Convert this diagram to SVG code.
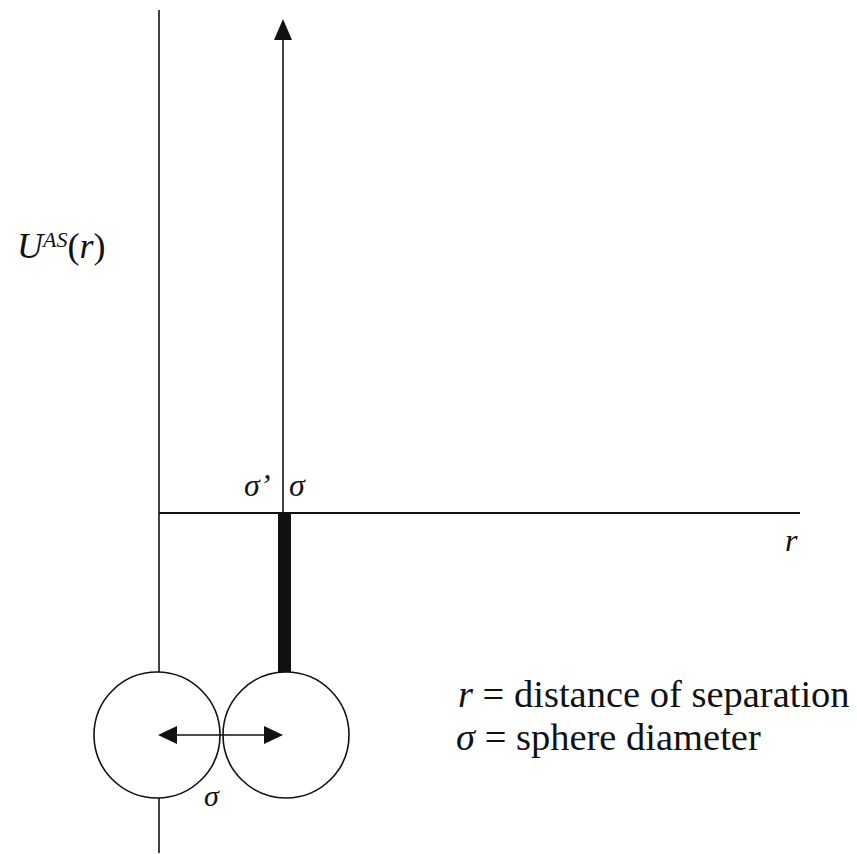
<svg xmlns="http://www.w3.org/2000/svg" width="857" height="854" viewBox="0 0 857 854">
<style>
.ln{stroke:#111;stroke-width:1.6;fill:none}
.ax{stroke:#111;stroke-width:2;fill:none}
.sph{stroke:#111;stroke-width:1.6;fill:#fff}
text{font-family:"Liberation Serif","Times New Roman","DejaVu Serif",serif;fill:#111}
.i{font-style:italic}
</style>
<rect width="857" height="854" fill="#fff"/>
<g id="connectors">
<line class="ln" x1="159" y1="10" x2="159" y2="672"/>
<line class="ln" x1="159" y1="798" x2="159" y2="853"/>
<line class="ax" x1="159" y1="513" x2="800" y2="513"/>
<line class="ln" x1="283" y1="513" x2="283" y2="38"/>
<polygon points="283,19 274,40 292,40" fill="#111"/>
<rect x="278" y="513" width="13" height="159" fill="#111"/>
</g>
<g id="sphere-left"><circle class="sph" cx="157" cy="735" r="63"/></g>
<g id="sphere-right"><circle class="sph" cx="286" cy="735" r="63"/></g>
<g id="separation-arrow">
<line class="ln" x1="176" y1="735" x2="265" y2="735"/>
<polygon points="158,735 177,726 177,744" fill="#111"/>
<polygon points="283,735 264,726 264,744" fill="#111"/>
</g>
<g id="labels">
<text x="17" y="258" font-size="36"><tspan class="i">U</tspan><tspan class="i" font-size="22" dy="-11">AS</tspan><tspan dy="11">(</tspan><tspan class="i">r</tspan>)</text>
<text class="i" x="244" y="496" font-size="32">σ’</text>
<text class="i" x="289" y="496" font-size="32">σ</text>
<text class="i" x="785" y="551" font-size="32">r</text>
<text class="i" x="204" y="806" font-size="30">σ</text>
<text x="458" y="707" font-size="38.5"><tspan class="i">r</tspan> = distance of separation</text>
<text x="456" y="750" font-size="38.5"><tspan class="i">σ</tspan> = sphere diameter</text>
</g>
</svg>
